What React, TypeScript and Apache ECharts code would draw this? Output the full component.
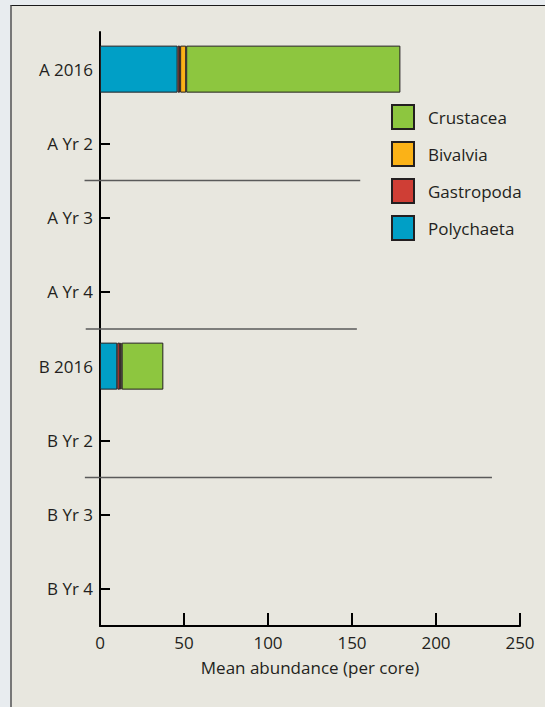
import React, { useEffect, useRef } from "react";
import * as echarts from "echarts";

const categories = ["A 2016", "A Yr 2", "A Yr 3", "A Yr 4", "B 2016", "B Yr 2", "B Yr 3", "B Yr 4"];
const polychaeta = [46.2, null, null, null, 10.3, null, null, null];
const gastropoda = [1.5, null, null, null, 1.7, null, null, null];
const bivalvia = [3.6, null, null, null, 0.9, null, null, null];
const crustacea = [127.5, null, null, null, 24.8, null, null, null];
const xTicks = [0, 50, 100, 150, 200, 250];
const legendOrder = ["Crustacea", "Bivalvia", "Gastropoda", "Polychaeta"];
// separator lines: [x start, x end, index of category above the line]
const separators = [
  [-9.2, 154.9, 1],
  [-8.5, 152.9, 3],
  [-9.0, 233.3, 5],
];

const FONT = "'Open Sans', sans-serif";
const TXT = "#231f20";
const COLORS: Record<string, string> = {
  Polychaeta: "#009fc6",
  Gastropoda: "#cf3e35",
  Bivalvia: "#fbb217",
  Crustacea: "#8dc63f",
};

export default function App() {
  const ref = useRef<HTMLDivElement>(null);
  useEffect(() => {
    if (!ref.current) return;
    const chart = echarts.init(ref.current, null, { renderer: "svg" });
    const barSeries = (name: string, data: (number | null)[]) => ({
      name,
      type: "bar",
      stack: "total",
      data,
      barWidth: 47,
      itemStyle: { color: COLORS[name], borderColor: TXT, borderWidth: 1 },
    });
    chart.setOption({
      animation: false,
      backgroundColor: "transparent",
      textStyle: { fontFamily: FONT, color: TXT },
      grid: { left: 100, right: 25, top: 32, bottom: 81 },
      legend: {
        data: legendOrder,
        orient: "vertical",
        left: 391,
        top: 104,
        itemWidth: 22,
        itemHeight: 24,
        itemGap: 11,
        icon: "rect",
        padding: 0,
        textStyle: { fontFamily: FONT, fontSize: 17, color: TXT, padding: [0, 0, 0, 9] },
      },
      xAxis: {
        type: "value",
        min: xTicks[0],
        max: xTicks[xTicks.length - 1],
        interval: xTicks[1] - xTicks[0],
        name: "Mean abundance (per core)",
        nameLocation: "middle",
        nameGap: 33,
        nameTextStyle: { fontFamily: FONT, fontSize: 17, color: TXT },
        axisLine: { show: true, lineStyle: { color: "#000", width: 2 } },
        axisTick: { show: true, inside: true, length: 13, lineStyle: { color: "#000", width: 2 } },
        axisLabel: { fontFamily: FONT, fontSize: 17, color: TXT, margin: 8 },
        splitLine: { show: false },
      },
      yAxis: {
        type: "category",
        data: categories,
        inverse: true,
        axisLine: { show: true, lineStyle: { color: "#000", width: 2 } },
        axisTick: { show: true, inside: true, alignWithLabel: true, length: 10, lineStyle: { color: "#000", width: 2 } },
        axisLabel: { fontFamily: FONT, fontSize: 17, color: TXT, margin: 7 },
        splitLine: { show: false },
      },
      series: [
        barSeries("Polychaeta", polychaeta),
        barSeries("Gastropoda", gastropoda),
        barSeries("Bivalvia", bivalvia),
        barSeries("Crustacea", crustacea),
        {
          type: "custom",
          name: "separators",
          clip: false,
          silent: true,
          data: separators,
          encode: { x: [0, 1], y: 2 },
          renderItem: (params: any, api: any) => {
            const xs = api.value(0);
            const xe = api.value(1);
            const i = api.value(2);
            const a = api.coord([xs, i]);
            const b = api.coord([xs, i + 1]);
            const e = api.coord([xe, i]);
            const y = (a[1] + b[1]) / 2;
            return {
              type: "line",
              shape: { x1: a[0], y1: y, x2: e[0], y2: y },
              style: { stroke: "#5a5a5a", lineWidth: 1.3 },
            };
          },
        },
      ],
    });
    return () => chart.dispose();
  }, []);

  return (
    <div style={{ position: "fixed", left: 0, top: 0, width: 545, height: 707, background: "#e8ecef", overflow: "hidden" }}>
      <div
        style={{
          position: "absolute",
          left: 10,
          top: 5,
          right: -5,
          bottom: -5,
          background: "#e8e7df",
          borderLeft: "2px solid #777",
          borderTop: "1px solid #1a1a1a",
        }}
      />
      <div ref={ref} style={{ position: "absolute", left: 0, top: 0, width: 545, height: 707 }} />
    </div>
  );
}
